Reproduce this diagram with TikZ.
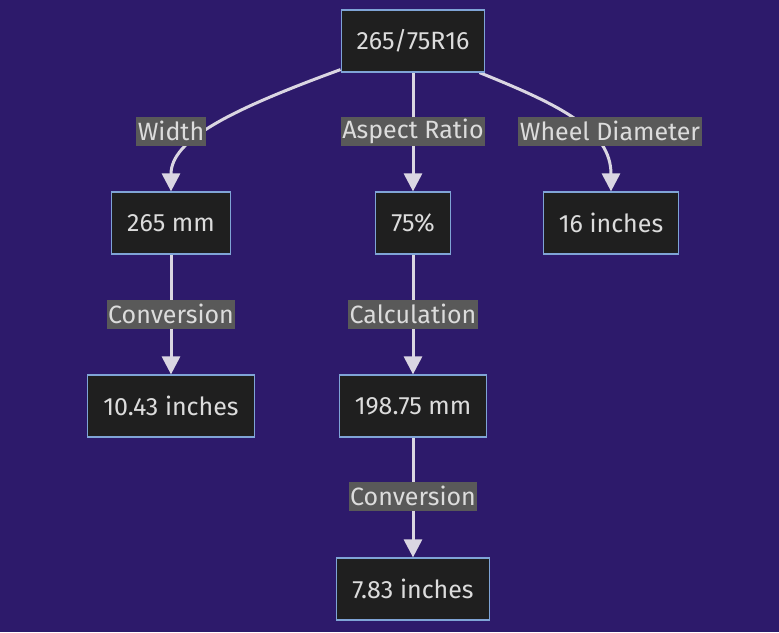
\documentclass[tikz,border=0pt]{standalone}
\usepackage{fontspec}
\setmainfont{Fira Sans}
\usepackage{xcolor}
\usepackage{tikz}
\usetikzlibrary{positioning}
\usetikzlibrary{backgrounds}
\usetikzlibrary{arrows.meta}

\definecolor{bgpurple}{HTML}{2D1A6B}
\definecolor{boxfill}{HTML}{1F1F1F}
\definecolor{boxline}{HTML}{7FA4D6}
\definecolor{lblfill}{HTML}{595959}
\definecolor{txtgray}{HTML}{DCDCDC}
\definecolor{edgegray}{HTML}{DAD6E2}

\tikzset{
  box/.style={draw=boxline, line width=1.2pt, fill=boxfill, text=txtgray,
    font=\fontsize{25}{29}\selectfont, inner xsep=15.5pt, minimum height=62pt},
  lbl/.style={fill=lblfill, text=txtgray, font=\fontsize{25}{29}\selectfont,
    inner xsep=1.5pt, inner ysep=0pt, minimum height=29pt},
  edge/.style={draw=edgegray, line width=3pt,
    -{Triangle[width=18pt,length=18pt]}}
}

\begin{document}
\begin{tikzpicture}[x=1pt,y=1pt]
 \useasboundingbox (0,0) rectangle (779,-632);

 \node (tire) [box] at (413,-41) { 265/75R16 };
 \node (ratio) [box,below=182pt of tire.center,anchor=center] { 75\% };
 \node (width) [box,left=242pt of ratio.center,anchor=center] { 265 mm };
 \node (wheel) [box,right=198pt of ratio.center,anchor=center] { 16 inches };

 \node (widthin) [box,below=183pt of width.center,anchor=center] { 10.43 inches };
 \node (sidemm) [box,below=183pt of ratio.center,anchor=center] { 198.75 mm };
 \node (sidein) [box,below=183pt of sidemm.center,anchor=center] { 7.83 inches };

 \node (lwidth) [lbl,above=92pt of width.center,anchor=center] { Width };
 \node (lratio) [lbl,above=92pt of ratio.center,anchor=center] { Aspect Ratio };
 \node (lwheel) [lbl,above=92pt of wheel.center,anchor=center,xshift=-1pt] { Wheel Diameter };
 \node (lconv) [lbl,below=91pt of width.center,anchor=center] { Conversion };
 \node (lcalc) [lbl,below=91pt of ratio.center,anchor=center] { Calculation };
 \node (lconv2) [lbl,below=90pt of sidemm.center,anchor=center] { Conversion };

 \begin{scope}[on background layer]
   \fill [bgpurple] (0,0) rectangle (779,-632);
   \draw [edge] (tire.south west) ++(0,3pt) .. controls (230,-110) and (171,-140) .. (width.north);
   \draw [edge] (tire) -- (ratio);
   \draw [edge] (tire.south east) ++(-6pt,0) .. controls (560,-105) and (611,-130) .. (wheel.north);
   \draw [edge] (width) -- (widthin);
   \draw [edge] (ratio) -- (sidemm);
   \draw [edge] (sidemm) -- (sidein);
 \end{scope}
\end{tikzpicture}
\end{document}
